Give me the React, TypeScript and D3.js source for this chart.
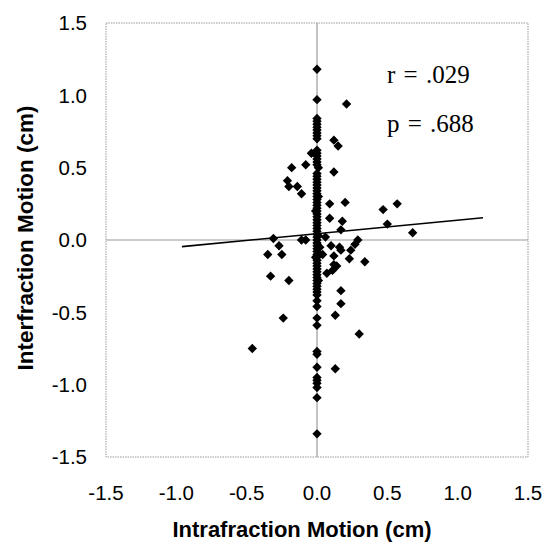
import { scaleLinear, symbol, symbolDiamond2, line } from "d3";

const width = 547;
const height = 546;

// tick values and their printed labels
const tickValues = [-1.5, -1.0, -0.5, 0.0, 0.5, 1.0, 1.5];
const tickLabels = ["-1.5", "-1.0", "-0.5", "0.0", "0.5", "1.0", "1.5"];

// points sitting on the x = 0 line (intrafraction motion = 0)
const zeroColumn = [
  1.18, 0.97, 0.84, 0.82, 0.8, 0.78, 0.76, 0.74, 0.72, 0.7,
  0.62, 0.6, 0.58, 0.56, 0.54, 0.52,
  0.46, 0.44, 0.42, 0.4, 0.38, 0.36, 0.34, 0.32, 0.3, 0.28, 0.26, 0.24,
  0.22, 0.2, 0.18, 0.16, 0.14, 0.12, 0.1, 0.08, 0.06, 0.04, 0.02, 0.0,
  -0.02, -0.04, -0.06, -0.08, -0.1, -0.12, -0.14, -0.16, -0.18, -0.2,
  -0.22, -0.24, -0.26, -0.28, -0.3, -0.32, -0.34, -0.36, -0.38,
  -0.42, -0.46, -0.54, -0.59, -0.77, -0.79, -0.88, -0.95, -0.97, -0.99,
  -1.02, -1.09, -1.34,
];

// points just beside the zero line
const nearZeroX = [-0.01, 0.01, 0.01, -0.01, 0.01, 0.02, -0.01, 0.01];
const nearZeroY = [0.6, 0.5, 0.3, 0.2, 0.03, -0.05, -0.12, -0.28];

// the rest of the scatter
const intraX = [
  0.21, 0.12, 0.15, -0.04, -0.08, -0.18, 0.12, -0.21, -0.2, -0.14,
  -0.11, 0.09, 0.2, 0.47, 0.57, 0.09, 0.18, 0.17, 0.5, 0.68,
  0.06, -0.31, -0.27, -0.11, -0.08, 0.1, 0.16, 0.17, 0.29, 0.27,
  0.24, -0.35, -0.25, 0.04, 0.12, 0.23, 0.34, 0.12, 0.14, 0.11,
  0.07, -0.33, -0.2, 0.17, 0.17, -0.24, 0.13, 0.3, -0.46, 0.13,
];
const interY = [
  0.94, 0.69, 0.65, 0.6, 0.52, 0.5, 0.47, 0.41, 0.37, 0.37,
  0.32, 0.25, 0.26, 0.21, 0.25, 0.15, 0.13, 0.07, 0.11, 0.05,
  0.02, 0.01, -0.04, 0.0, 0.0, -0.04, -0.05, -0.07, 0.0, -0.03,
  -0.07, -0.1, -0.1, -0.1, -0.11, -0.13, -0.15, -0.17, -0.18, -0.21,
  -0.23, -0.25, -0.28, -0.35, -0.44, -0.54, -0.52, -0.65, -0.75, -0.89,
];

// fitted line ends
const fitX = [-0.96, 1.18];
const fitY = [-0.046, 0.154];

const statLines = ["r = .029", "p = .688"];

export default function App() {
  const x = scaleLinear().domain([-1.5, 1.5]).range([106, 528]);
  const y = scaleLinear().domain([-1.5, 1.5]).range([457, 23]);

  const points: [number, number][] = [
    ...zeroColumn.map((v) => [0, v] as [number, number]),
    ...nearZeroX.map((v, i) => [v, nearZeroY[i]] as [number, number]),
    ...intraX.map((v, i) => [v, interY[i]] as [number, number]),
  ];

  const diamond = symbol().type(symbolDiamond2).size(56)();
  const fitPath = line<number>()
    .x((d) => x(d))
    .y((_, i) => y(fitY[i]))(fitX);

  const sans = "Liberation Sans, Arial, sans-serif";
  const serif = "Liberation Serif, Times New Roman, serif";

  return (
    <svg
      width={width}
      height={height}
      style={{ position: "absolute", left: 0, top: 0, background: "#fff" }}
    >
      {/* plot frame */}
      <rect
        x={x(-1.5)}
        y={y(1.5)}
        width={x(1.5) - x(-1.5)}
        height={y(-1.5) - y(1.5)}
        fill="none"
        stroke="#999"
        strokeWidth={1}
        strokeDasharray="1.5,1"
      />
      {/* zero lines */}
      <line x1={x(0)} x2={x(0)} y1={y(1.5)} y2={y(-1.5)} stroke="#888" strokeWidth={1} />
      <line x1={x(-1.5)} x2={x(1.5)} y1={y(0)} y2={y(0)} stroke="#999" strokeWidth={1.2} />

      {/* y tick labels */}
      {tickValues.map((t, i) => (
        <text
          key={"y" + t}
          x={87}
          y={y(t)}
          dy="0.36em"
          textAnchor="end"
          fontFamily={sans}
          fontSize={20.5}
        >
          {tickLabels[i]}
        </text>
      ))}
      {/* x tick labels */}
      {tickValues.map((t, i) => (
        <text
          key={"x" + t}
          x={x(t)}
          y={500}
          textAnchor="middle"
          fontFamily={sans}
          fontSize={20.5}
        >
          {tickLabels[i]}
        </text>
      ))}

      {/* axis titles */}
      <text
        x={302}
        y={537}
        textAnchor="middle"
        fontFamily={sans}
        fontSize={22}
        fontWeight="bold"
      >
        Intrafraction Motion (cm)
      </text>
      <text
        transform="translate(33,238) rotate(-90)"
        textAnchor="middle"
        fontFamily={sans}
        fontSize={22.5}
        fontWeight="bold"
      >
        Interfraction Motion (cm)
      </text>

      {/* points */}
      {points.map((d, i) => (
        <path
          key={i}
          d={diamond!}
          transform={`translate(${x(d[0])},${y(d[1])})`}
          fill="#000"
        />
      ))}

      {/* regression line */}
      <path d={fitPath!} fill="none" stroke="#000" strokeWidth={1.6} />

      {/* statistics */}
      {statLines.map((s, i) => (
        <text
          key={s}
          x={387}
          y={83 + i * 49}
          fontFamily={serif}
          fontSize={25}
          style={{ wordSpacing: "2px" }}
        >
          {s}
        </text>
      ))}
    </svg>
  );
}
